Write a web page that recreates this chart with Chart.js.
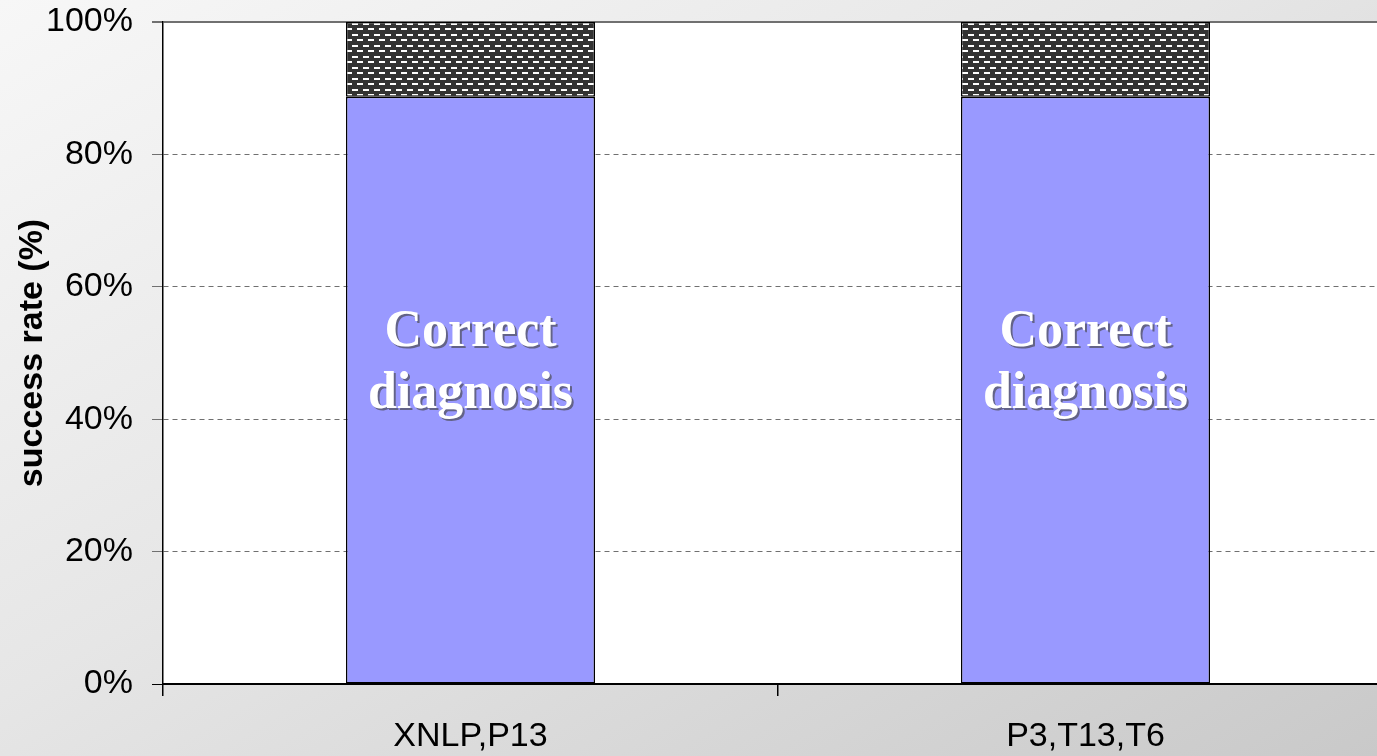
<!DOCTYPE html>
<html>
<head>
<meta charset="utf-8">
<script src="https://cdn.jsdelivr.net/npm/chart.js@4.4.1/dist/chart.umd.min.js"></script>
<style>
  html, body { margin: 0; padding: 0; }
  body {
    width: 1377px; height: 756px; overflow: hidden;
    background: linear-gradient(150deg, #f7f7f7 0%, #e6e6e6 45%, #c9c9c9 100%);
  }
  #wrap { width: 1393px; height: 756px; }
  canvas { display: block; }
</style>
</head>
<body>
<div id="wrap"><canvas id="c" width="1393" height="756"></canvas></div>
<script>
// Categories and stacked series (percent of cases)
const categories = ['XNLP,P13', 'P3,T13,T6'];
const correctDiagnosis = [88.7, 88.7];
const remainder = [11.3, 11.3];
const barLabel = ['Correct', 'diagnosis'];
const yTicks = [0, 20, 40, 60, 80, 100];

// Dark hatch with short white dashes for the upper segment
function brickPattern() {
  const t = document.createElement('canvas');
  t.width = 11; t.height = 11;
  const g = t.getContext('2d');
  g.fillStyle = '#333333';
  g.fillRect(0, 0, 11, 11);
  g.fillStyle = '#ffffff';
  g.fillRect(0, 1, 6, 2);
  g.fillRect(5, 6, 6, 2);
  return g.createPattern(t, 'repeat');
}

const ctx = document.getElementById('c').getContext('2d');

// White plot area behind the bars
const plotBackground = {
  id: 'plotBackground',
  beforeDraw(chart) {
    const a = chart.chartArea, c = chart.ctx;
    c.save();
    c.fillStyle = '#ffffff';
    c.fillRect(a.left, a.top, a.right - a.left, a.bottom - a.top);
    c.restore();
  }
};

// Caption written inside each lower bar segment
const barCaptions = {
  id: 'barCaptions',
  afterDatasetsDraw(chart) {
    const meta = chart.getDatasetMeta(0);
    const y = chart.scales.y;
    const c = chart.ctx;
    c.save();
    c.font = 'bold 52px "Liberation Serif", "Times New Roman", serif';
    c.textAlign = 'center';
    c.textBaseline = 'middle';
    c.fillStyle = '#ffffff';
    c.shadowColor = 'rgba(70,70,70,0.65)';
    c.shadowOffsetX = 2;
    c.shadowOffsetY = 2;
    c.shadowBlur = 0;
    meta.data.forEach((bar, i) => {
      const mid = y.getPixelForValue(correctDiagnosis[i] * 0.545);
      c.fillText(barLabel[0], bar.x, mid - 31);
      c.fillText(barLabel[1], bar.x, mid + 31);
    });
    c.restore();
  }
};

new Chart(ctx, {
  type: 'bar',
  data: {
    labels: categories,
    datasets: [
      {
        label: 'Correct diagnosis',
        data: correctDiagnosis,
        backgroundColor: '#9999ff',
        borderColor: '#000000',
        borderWidth: 1.5,
        borderSkipped: false
      },
      {
        label: 'Other',
        data: remainder,
        backgroundColor: brickPattern(),
        borderColor: '#000000',
        borderWidth: 1.5,
        borderSkipped: false
      }
    ]
  },
  options: {
    responsive: false,
    devicePixelRatio: 1,
    animation: false,
    layout: { padding: { top: 22, right: 0, left: 0, bottom: 0 } },
    plugins: {
      legend: { display: false },
      tooltip: { enabled: false }
    },
    datasets: {
      bar: { categoryPercentage: 1.0, barPercentage: 0.405 }
    },
    scales: {
      x: {
        stacked: true,
        afterFit(s) { s.height = 72; },
        border: { display: true, color: '#000000', width: 2 },
        grid: {
          offset: true,
          drawOnChartArea: false,
          drawTicks: true,
          tickLength: 12,
          color: '#000000',
          lineWidth: 1.5
        },
        ticks: {
          color: '#000000',
          padding: 20,
          maxRotation: 0,
          font: { family: '"Liberation Sans", Arial, sans-serif', size: 34 }
        }
      },
      y: {
        stacked: true,
        min: 0,
        max: 100,
        afterFit(s) {
          s.width = 163;
          s.paddingTop = 0;
          s.paddingBottom = 0;
        },
        afterBuildTicks(s) { s.ticks = yTicks.map(v => ({ value: v })); },
        border: {
          display: true,
          color: '#000000',
          width: 1.5,
          dash: (c) => c.tick && c.tick.value === 100 ? [] : [5, 4]
        },
        grid: {
          color: (c) => c.tick && c.tick.value === 0 ? '#000000' : '#707070',
          lineWidth: (c) => c.tick && c.tick.value === 100 ? 2 : 1,
          tickBorderDash: [],
          tickLength: 11,
          drawTicks: true
        },
        ticks: {
          color: '#000000',
          padding: 19,
          callback: (v) => v + '%',
          font: { family: '"Liberation Sans", Arial, sans-serif', size: 34 }
        },
        title: {
          display: true,
          text: 'success rate (%)',
          color: '#000000',
          padding: { top: 12, bottom: 0 },
          font: { family: '"Liberation Sans", Arial, sans-serif', size: 34, weight: 'bold' }
        }
      }
    }
  },
  plugins: [plotBackground, barCaptions]
});
</script>
</body>
</html>
